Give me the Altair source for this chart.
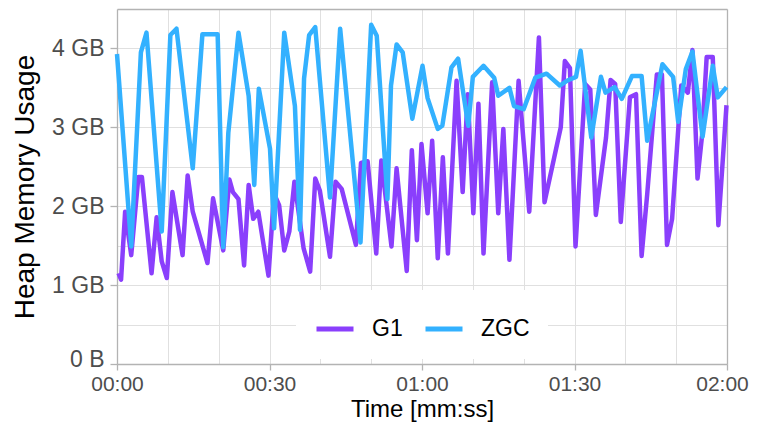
import altair as alt
import pandas as pd

# ---- data (seconds, GB) ----
g1_time = [0.3, 0.8, 1.6, 2.8, 4.2, 4.9, 6.8, 7.8, 8.8, 9.8,
           10.9, 12.9, 13.9, 14.9, 17.8, 18.9, 20.9, 22.1, 22.8, 23.9,
           25.0, 25.9, 26.8, 27.8, 29.8, 30.9, 31.9, 32.9, 33.9, 34.9,
           36.7, 38.0, 39.0, 39.9, 41.9, 43.0, 44.2, 47.0, 48.0, 49.3,
           51.0, 52.0, 54.0, 55.0, 57.0, 58.0, 59.0, 59.9, 61.1, 62.0,
           63.1, 64.1, 65.1, 66.8, 68.0, 69.0, 70.1, 71.1, 72.1, 73.8,
           75.0, 76.0, 77.2, 79.0, 81.1, 83.0, 84.1, 87.3, 88.1, 89.1,
           90.2, 92.1, 93.1, 94.2, 96.2, 97.1, 98.0, 99.1, 100.9, 102.1,
           103.2, 104.3, 106.2, 107.2, 108.2, 109.2, 111.0, 112.3, 113.2, 114.2,
           115.1, 116.0, 117.2, 118.3, 119.9]
g1_heap = [1.15, 1.07, 1.93, 1.38, 2.37, 2.37, 1.15, 1.86, 1.30, 1.09,
           2.18, 1.38, 2.39, 1.93, 1.28, 2.10, 1.44, 2.34, 2.18, 2.09,
           1.25, 2.27, 1.84, 1.93, 1.12, 2.16, 2.01, 1.44, 1.68, 2.31,
           1.47, 1.17, 2.35, 2.20, 1.36, 2.31, 2.22, 1.51, 2.55, 2.57,
           1.40, 2.58, 1.49, 2.48, 1.18, 2.71, 1.57, 2.79, 1.91, 2.83,
           1.34, 2.62, 1.40, 3.59, 2.18, 3.42, 1.91, 3.30, 1.40, 3.57,
           1.91, 2.98, 1.32, 3.59, 1.93, 4.14, 2.05, 3.00, 3.84, 3.75,
           1.49, 3.55, 3.48, 1.89, 2.87, 3.60, 3.55, 1.80, 3.38, 3.42,
           1.37, 2.15, 3.67, 3.67, 1.51, 1.84, 3.53, 3.44, 3.98, 2.35,
           2.90, 3.89, 3.89, 1.76, 3.28]

zgc_time = [0.0, 2.8, 4.7, 5.8, 8.8, 10.5, 11.7, 14.9, 16.8, 19.8,
            20.9, 21.9, 23.9, 25.9, 27.0, 27.9, 30.1, 30.9, 32.9, 35.0,
            36.0, 36.8, 37.8, 39.0, 41.9, 43.9, 47.9, 50.0, 51.1, 53.2,
            53.9, 55.0, 56.2, 58.1, 60.1, 61.1, 63.1, 64.0, 65.8, 67.1,
            69.1, 70.0, 72.1, 74.2, 75.0, 77.2, 78.1, 80.0, 82.3, 84.5,
            87.1, 88.5, 90.3, 91.2, 93.3, 95.2, 96.1, 97.9, 99.3, 101.3,
            103.2, 104.3, 107.3, 109.4, 110.4, 111.9, 113.2, 115.2, 117.2, 118.2,
            119.9]
zgc_heap = [3.93, 1.49, 3.95, 4.20, 1.68, 4.17, 4.25, 2.48, 4.18, 4.18,
            1.48, 2.93, 4.20, 3.40, 2.27, 3.49, 2.73, 1.72, 4.20, 3.27,
            1.70, 3.62, 4.17, 4.27, 2.11, 4.25, 1.54, 4.30, 4.16, 2.09,
            3.53, 4.05, 3.95, 3.11, 3.78, 3.37, 2.98, 3.02, 3.76, 3.87,
            3.02, 3.64, 3.78, 3.63, 3.40, 3.50, 3.27, 3.23, 3.63, 3.68,
            3.53, 3.59, 3.64, 3.97, 2.87, 3.64, 3.44, 3.51, 3.36, 3.65,
            3.65, 2.83, 3.80, 3.64, 3.07, 3.74, 3.96, 2.88, 3.78, 3.38,
            3.51]

series_names = ["G1", "ZGC"]
series_colors = ["#8a3ffc", "#33b1ff"]
x_grid_values = [0, 10, 20, 30, 40, 50, 60, 70, 80, 90, 100, 110, 120]
y_grid_values = [0, 0.5, 1, 1.5, 2, 2.5, 3, 3.5, 4]
x_domain = [0, 120]
y_domain = [0, 4.5]

df = pd.concat([
    pd.DataFrame({"t": g1_time, "heap": g1_heap, "gc": "G1"}),
    pd.DataFrame({"t": zgc_time, "heap": zgc_heap, "gc": "ZGC"}),
], ignore_index=True)

FONT = "Liberation Sans"
BORDER = "#b3b3b3"
GRID = "#e0e0e0"
LABEL = "#4d4d4d"

x_label_expr = ("datum.value % 30 === 0 ? "
                "(floor(datum.value / 60) < 10 ? '0' : '') + floor(datum.value / 60) + ':' + "
                "((datum.value % 60) < 10 ? '0' : '') + (datum.value % 60) : ''")
y_label_expr = ("datum.value % 1 === 0 ? "
                "(datum.value === 0 ? '0 B' : datum.value + ' GB') : ''")

x_axis = alt.Axis(
    values=x_grid_values, labelExpr=x_label_expr, title="Time [mm:ss]",
    grid=True, gridColor=GRID, gridWidth=1,
    domain=True, domainColor=BORDER, domainWidth=1.3,
    ticks=True, tickColor=BORDER, tickWidth=1.3, tickSize=6,
    tickOpacity={"condition": {"test": "datum.value % 30 === 0", "value": 1}, "value": 0},
    labelFont=FONT, labelFontSize=21, labelColor=LABEL, labelPadding=3,
    labelOffset={"condition": {"test": "datum.value >= 120", "value": -5}, "value": 0},
    labelFlush=False, labelOverlap=False,
    titleFont=FONT, titleFontSize=24, titleColor="black", titleFontWeight="normal",
    titlePadding=3,
)
y_axis = alt.Axis(
    values=y_grid_values, labelExpr=y_label_expr, title="Heap Memory Usage",
    grid=True, gridColor=GRID, gridWidth=1,
    domain=True, domainColor=BORDER, domainWidth=1.3,
    ticks=True, tickColor=BORDER, tickWidth=1.3, tickSize=7,
    tickOpacity={"condition": {"test": "datum.value % 1 === 0", "value": 1}, "value": 0},
    labelFont=FONT, labelFontSize=23, labelColor=LABEL, labelPadding=6,
    labelOffset={"condition": {"test": "datum.value === 0", "value": -5}, "value": 0},
    labelOverlap=False,
    titleFont=FONT, titleFontSize=28, titleColor="black", titleFontWeight="normal",
    titlePadding=12,
)
x_axis_top = alt.Axis(orient="top", title=None, labels=False, ticks=False, grid=False,
                      domain=True, domainColor=BORDER, domainWidth=1.3)
y_axis_right = alt.Axis(orient="right", title=None, labels=False, ticks=False, grid=False,
                        domain=True, domainColor=BORDER, domainWidth=1.3)

legend = alt.Legend(
    title=None, orient="none", legendX=179, legendY=281, direction="horizontal",
    columns=2, fillColor="white", padding=18,
    symbolType="stroke", symbolSize=1369, symbolStrokeWidth=5,
    labelFont=FONT, labelFontSize=23, labelColor="black",
    labelOffset=16, columnPadding=12,
)

color_scale = alt.Scale(domain=series_names, range=series_colors)
x_scale = alt.Scale(domain=x_domain, nice=False, zero=False)
y_scale = alt.Scale(domain=y_domain, nice=False)

line_style = dict(strokeWidth=4.5, strokeJoin="round", strokeCap="butt")

g1_layer = alt.Chart(df).transform_filter(alt.datum.gc == "G1").mark_line(**line_style).encode(
    x=alt.X("t:Q", scale=x_scale, axis=x_axis),
    y=alt.Y("heap:Q", scale=y_scale, axis=y_axis),
    color=alt.Color("gc:N", scale=color_scale, legend=legend),
)
zgc_layer = alt.Chart(df).transform_filter(alt.datum.gc == "ZGC").mark_line(**line_style).encode(
    x=alt.X("t:Q", scale=x_scale, axis=x_axis_top),
    y=alt.Y("heap:Q", scale=y_scale, axis=y_axis_right),
    color=alt.Color("gc:N", scale=color_scale, legend=legend),
)

chart = alt.layer(g1_layer, zgc_layer).resolve_axis(
    x="independent", y="independent"
).properties(
    width=610, height=355, autosize="none",
    padding={"left": 109, "top": 1, "right": 24, "bottom": 60},
    background="white",
).configure_view(stroke=None)

chart.save("out.html", embed_options={"renderer": "svg", "actions": False})
